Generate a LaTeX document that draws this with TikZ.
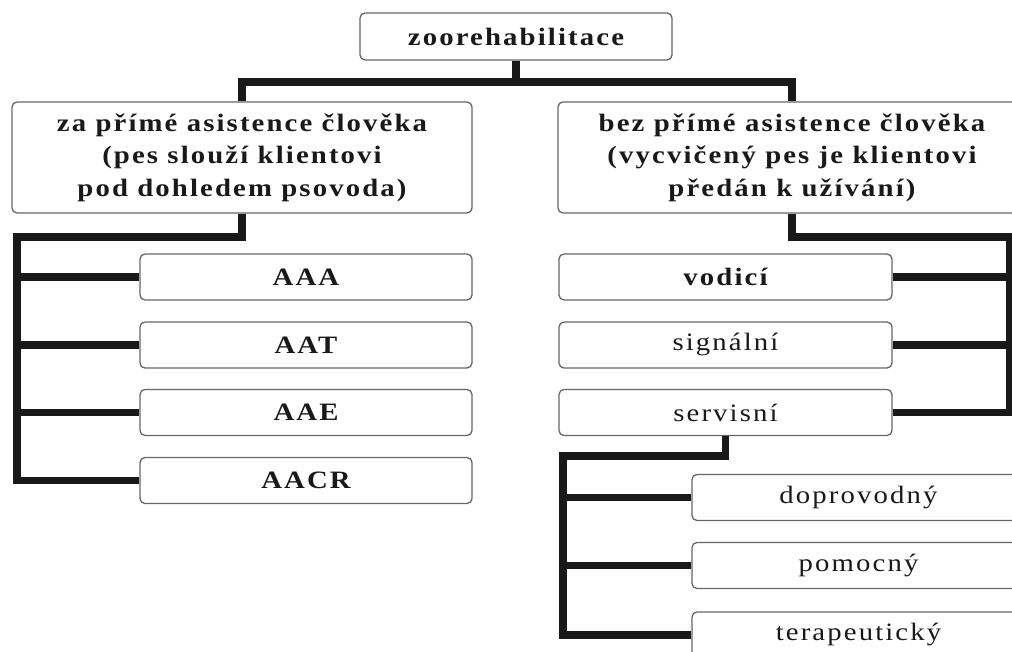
\documentclass[tikz,border=0pt]{standalone}
\usepackage{fontspec}
\setmainfont{Liberation Serif}[FakeStretch=1.15, LetterSpace=8.5]
\begin{document}
\begin{tikzpicture}[x=1pt,y=-1pt,
  box/.style={draw=black!60, line width=1.3pt, rounded corners=5pt, fill=white,
    inner sep=0pt, align=center, text=black!90, font=\fontsize{25}{32.5}\selectfont\bfseries},
  reg/.style={font=\fontsize{25}{32.5}\selectfont},
  conn/.style={line width=7.5pt, black!90, line join=miter, line cap=butt}]
\useasboundingbox (0,0) rectangle (1012,652);
\clip (0,0) rectangle (1012,652);
% nodes
\node[box, minimum width=312pt, minimum height=47pt] (top) at (516,36.5) {zoorehabilitace};
\node[box, minimum width=460pt, minimum height=111pt] (L) at (242,157.5) {za přímé asistence člověka\\(pes slouží klientovi\\pod dohledem psovoda)};
\node[box, minimum width=468pt, minimum height=111pt] (R) at (792,157.5) {bez přímé asistence člověka\\(vycvičený pes je klientovi\\předán k užívání)};
\node[box, minimum width=332pt, minimum height=46pt] (aaa) at (306,277) {AAA};
\node[box, minimum width=332pt, minimum height=46pt] (aat) at (306,345) {AAT};
\node[box, minimum width=332pt, minimum height=46pt] (aae) at (306,412.5) {AAE};
\node[box, minimum width=332pt, minimum height=46pt] (aacr) at (306,480.5) {AACR};
\node[box, minimum width=333pt, minimum height=46pt] (vod) at (725.5,277) {vodicí};
\node[box, reg, minimum width=333pt, minimum height=46pt] (sig) at (725.5,345) {signální};
\node[box, reg, minimum width=333pt, minimum height=46pt] (serv) at (725.5,412.5) {servisní};
\node[box, reg, minimum width=333pt, minimum height=46pt] (dop) at (858.5,497.5) {doprovodný};
\node[box, reg, minimum width=333pt, minimum height=46pt] (pom) at (858.5,565.5) {pomocný};
\node[box, reg, minimum width=333pt, minimum height=46pt] (ter) at (858.5,635) {terapeutický};
% bar coordinates
\coordinate (b1) at (0,82);
\coordinate (b2) at (17,237);
\coordinate (b3) at (1010,237);
\coordinate (b4) at (563,456);
% connectors
\draw[conn] (top.south) -- (top.south |- b1) -| (L.north);
\draw[conn] (top.south |- b1) -| (R.north);
\draw[conn] (L.south) -- (L.south |- b2) -- (b2) |- (aacr.west);
\draw[conn] (b2 |- aaa.west) -- (aaa.west);
\draw[conn] (b2 |- aat.west) -- (aat.west);
\draw[conn] (b2 |- aae.west) -- (aae.west);
\draw[conn] (R.south) -- (R.south |- b3) -- (b3) |- (serv.east);
\draw[conn] (b3 |- vod.east) -- (vod.east);
\draw[conn] (b3 |- sig.east) -- (sig.east);
\draw[conn] (serv.south) -- (serv.south |- b4) -- (b4) |- (ter.west);
\draw[conn] (b4 |- dop.west) -- (dop.west);
\draw[conn] (b4 |- pom.west) -- (pom.west);
\end{tikzpicture}
\end{document}
